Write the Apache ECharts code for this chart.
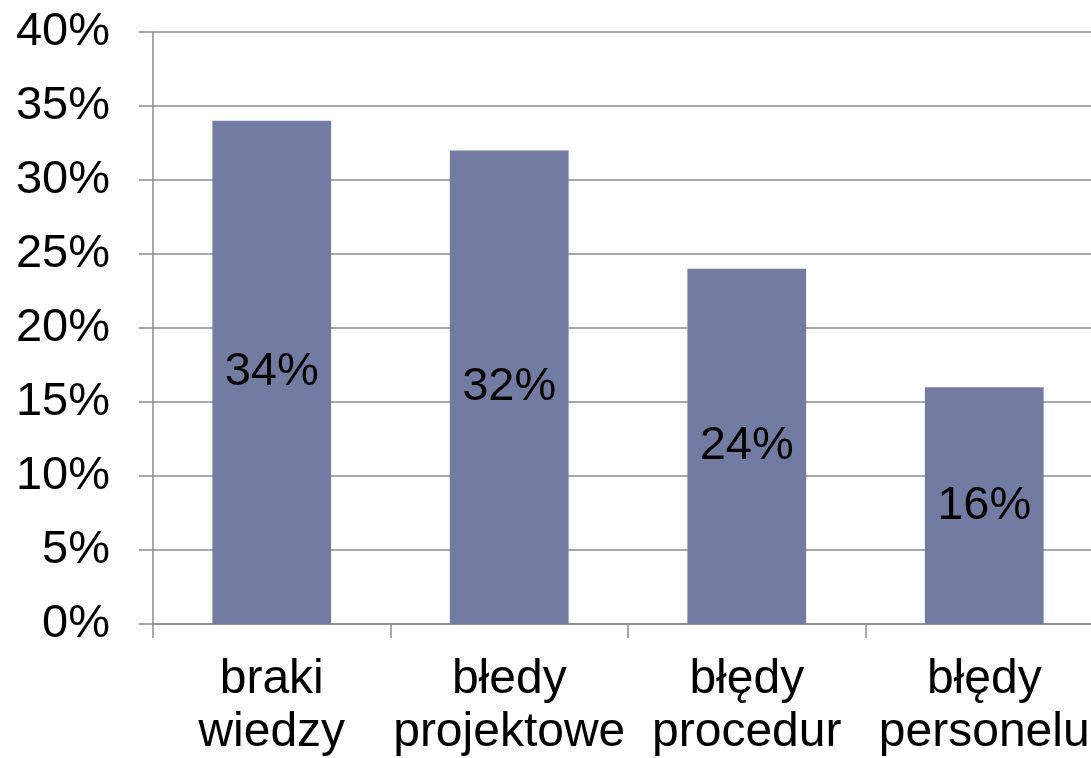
<!DOCTYPE html>
<html>
<head>
<meta charset="utf-8">
<script src="https://cdn.jsdelivr.net/npm/echarts@6/dist/echarts.min.js"></script>
<style>
html, body { margin: 0; padding: 0; background: #fff; }
#chart { width: 1091px; height: 758px; }
</style>
</head>
<body>
<div id="chart"></div>
<script>
// dane
const categories = ['braki\nwiedzy', 'błedy\nprojektowe', 'błędy\nprocedur', 'błędy\npersonelu'];
const values = [34, 32, 24, 16];
const yTicks = { min: 0, max: 40, interval: 5 };

const font = '"Liberation Sans", Arial, sans-serif';
const grey = '#8c8c8c';

let chart = echarts.init(document.getElementById('chart'));

let option = {
  animation: false,
  grid: {
    left: 153,
    top: 32,
    bottom: 134,
    right: -12,
    containLabel: false,
    outerBoundsMode: 'none'
  },
  xAxis: {
    type: 'category',
    data: categories,
    axisLine: { lineStyle: { color: grey, width: 1.5 } },
    axisTick: { show: true, alignWithLabel: false, length: 14, lineStyle: { color: grey, width: 1.5 } },
    axisLabel: {
      color: '#000',
      fontFamily: font,
      fontSize: 48,
      lineHeight: 53,
      margin: 29,
      interval: 0
    }
  },
  yAxis: {
    type: 'value',
    min: yTicks.min,
    max: yTicks.max,
    interval: yTicks.interval,
    axisLine: { show: true, lineStyle: { color: grey, width: 1.5 } },
    axisTick: { show: true, length: 14, lineStyle: { color: grey, width: 1.5 } },
    splitLine: { lineStyle: { color: grey, width: 1.5 } },
    axisLabel: {
      formatter: '{value}%',
      color: '#000',
      fontFamily: font,
      fontSize: 47,
      margin: 43
    }
  },
  series: [
    {
      type: 'bar',
      data: values,
      barCategoryGap: '50%',
      itemStyle: { color: '#727ca3' },
      label: {
        show: true,
        position: 'inside',
        formatter: '{c}%',
        color: '#000',
        fontFamily: font,
        fontSize: 47
      }
    }
  ]
};

chart.setOption(option);
</script>
</body>
</html>
